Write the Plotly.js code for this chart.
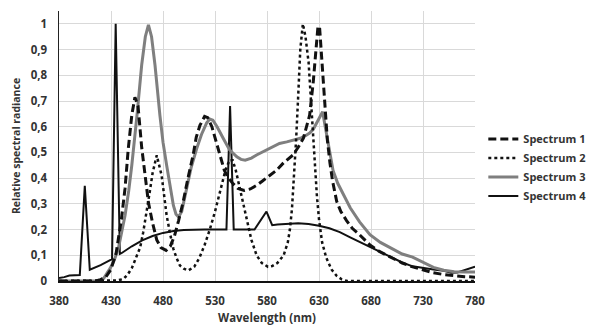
<!DOCTYPE html>
<html>
<head>
<meta charset="utf-8">
<script src="https://cdn.plot.ly/plotly-3.0.1.min.js"></script>
<style>html,body{margin:0;padding:0;background:#fff;}#chart{width:589px;height:330px;}</style>
</head>
<body>
<div id="chart"></div>
<script>
// ---- data ----
const seriesNames = ["Spectrum 1", "Spectrum 2", "Spectrum 3", "Spectrum 4"];

const s1Wavelength = [380,390,400,410,415,420,425,430,435,440,443.5,446.5,450,453,456,459.5,463,466,470,474,478,483,487,491,495,499.5,504,509,512,515.5,520,523,527,531,535,539,543,547,552,558,564,570,576,582,589,596,600,605,610,615,618,621,624.5,627,629,630.5,632,634,636,638,640.5,643,647,651,656.5,662,669,679,688,700,710,720,730,740,750,760,770,780];
const s1Radiance   = [0,0,0,0,0,0.005,0.015,0.045,0.11,0.24,0.36,0.51,0.645,0.715,0.68,0.52,0.4,0.305,0.225,0.16,0.13,0.119,0.135,0.175,0.235,0.31,0.4,0.49,0.56,0.605,0.64,0.635,0.6,0.54,0.48,0.43,0.4,0.38,0.36,0.352,0.358,0.372,0.39,0.41,0.43,0.46,0.475,0.49,0.52,0.555,0.6,0.645,0.775,0.9,0.99,0.99,0.9,0.76,0.64,0.55,0.46,0.39,0.31,0.27,0.235,0.205,0.18,0.14,0.115,0.09,0.07,0.055,0.042,0.032,0.025,0.02,0.017,0.015];

const s2Wavelength = [380,400,420,430,436,442,446,450,454,458,461,464,467,470,474,478.7,481,483.5,487,490,493,496.3,500,504.3,510,515,520,525,530,535,540,544,547,550,555,560,565,570,575,581,585,590,596,600,602,604,606,608,610,612,614.5,617,620,622,624,626,628,630,633,637,642,647,652,657,670,700,730,760,780];
const s2Radiance   = [0,0,0,0,0.002,0.008,0.025,0.05,0.09,0.13,0.19,0.26,0.34,0.42,0.489,0.41,0.34,0.255,0.18,0.125,0.09,0.06,0.048,0.041,0.055,0.09,0.14,0.2,0.27,0.35,0.43,0.47,0.47,0.43,0.34,0.24,0.16,0.1,0.07,0.055,0.058,0.07,0.1,0.15,0.2,0.28,0.4,0.55,0.72,0.9,1.0,0.95,0.85,0.72,0.58,0.45,0.33,0.24,0.15,0.09,0.045,0.02,0.006,0,0,0,0,0,0];

const s3Wavelength = [380,400,415,420,423,429,433,437,440,443.5,447,450,455,459.5,463,466,469,472.3,477,480,483.5,487,490,492.5,495,498,502.8,507,512.4,517,522,525,528,532,538,544,551,555,559,565,570,576,585,592,599,606,612,617,621,624.5,628,631,633.5,636,638.5,641,643.5,648,653,660,669,679,689,700,710,720,730,740,750,760,770,780];
const s3Radiance   = [0,0,0,0.004,0.01,0.048,0.08,0.125,0.18,0.255,0.35,0.45,0.645,0.84,0.95,0.996,0.95,0.84,0.645,0.54,0.45,0.36,0.294,0.26,0.249,0.27,0.36,0.44,0.515,0.57,0.615,0.63,0.625,0.6,0.554,0.51,0.483,0.473,0.47,0.478,0.49,0.502,0.52,0.535,0.541,0.548,0.555,0.565,0.575,0.59,0.615,0.64,0.658,0.6,0.545,0.48,0.43,0.38,0.34,0.285,0.23,0.18,0.15,0.125,0.105,0.093,0.072,0.053,0.042,0.036,0.035,0.035];

const s4Wavelength = [380,385,390,395,400,404.8,409.6,420,431,434.5,438.5,440,450,460,470,480,490,500,510,520,530,541,544.5,548,560,568,579.5,585,590,600,610,620,630,640,650,660,670,680,690,700,710,720,730,740,750,757,763,770,780];
const s4Radiance   = [0.012,0.015,0.021,0.022,0.023,0.37,0.044,0.062,0.085,1.0,0.105,0.108,0.135,0.158,0.175,0.187,0.194,0.198,0.2,0.2,0.2,0.2,0.68,0.2,0.2,0.2,0.27,0.217,0.22,0.223,0.225,0.222,0.215,0.205,0.19,0.17,0.15,0.13,0.11,0.09,0.072,0.057,0.05,0.045,0.04,0.032,0.033,0.042,0.056];

const xTickValues = [380,430,480,530,580,630,680,730,780];
const yTickValues = [0,0.1,0.2,0.3,0.4,0.5,0.6,0.7,0.8,0.9,1];

// ---- chart ----
const fontFamily = '"Open Sans", "DejaVu Sans", sans-serif';
const traces = [
  {x: s4Wavelength, y: s4Radiance, name: seriesNames[3], mode: 'lines', line: {color: '#111111', width: 2}, showlegend: false},
  {x: s3Wavelength, y: s3Radiance, name: seriesNames[2], mode: 'lines', line: {color: '#7f7f7f', width: 3}, showlegend: false},
  {x: s2Wavelength, y: s2Radiance, name: seriesNames[1], mode: 'lines', line: {color: '#111111', width: 2.5, dash: 'dot'}, showlegend: false},
  {x: s1Wavelength, y: s1Radiance, name: seriesNames[0], mode: 'lines', line: {color: '#111111', width: 3, dash: '8px,4px'}, showlegend: false}
];
// legend entries in original order
const legendTraces = [
  {x: [null], y: [null], name: seriesNames[0], mode: 'lines', line: {color: '#111111', width: 3, dash: '8px,4px'}},
  {x: [null], y: [null], name: seriesNames[1], mode: 'lines', line: {color: '#111111', width: 2.5, dash: 'dot'}},
  {x: [null], y: [null], name: seriesNames[2], mode: 'lines', line: {color: '#7f7f7f', width: 3}},
  {x: [null], y: [null], name: seriesNames[3], mode: 'lines', line: {color: '#111111', width: 2}}
];

const layout = {
  width: 589, height: 330,
  margin: {l: 59, r: 114, t: 11, b: 49, autoexpand: false},
  paper_bgcolor: '#ffffff', plot_bgcolor: '#ffffff',
  separators: ',.',
  font: {family: fontFamily, size: 11, color: '#333333', weight: 'bold'},
  showlegend: true,
  legend: {x: 1.02, xanchor: 'left', y: 0.42, yanchor: 'middle',
           font: {family: fontFamily, size: 11, color: '#333333', weight: 'bold'},
           bgcolor: 'rgba(0,0,0,0)', borderwidth: 0, tracegroupgap: 0, itemwidth: 30},
  xaxis: {
    range: [380, 780], tickvals: xTickValues, showgrid: true, gridcolor: '#d9d9d9', gridwidth: 1,
    zeroline: false, showline: true, linecolor: '#111111', linewidth: 2, ticks: '',
    ticklabelstandoff: 8,
    tickfont: {family: fontFamily, size: 11.5, color: '#333333', weight: 'bold'},
    title: {text: 'Wavelength (nm)', standoff: 7, font: {family: fontFamily, size: 11.5, color: '#333333', weight: 'bold'}}
  },
  yaxis: {
    range: [0, 1.05], tickvals: yTickValues, showgrid: true, gridcolor: '#d9d9d9', gridwidth: 1,
    zeroline: false, showline: true, linecolor: '#222222', linewidth: 1.5, ticks: '',
    ticklabelstandoff: 8,
    tickfont: {family: fontFamily, size: 11.5, color: '#333333', weight: 'bold'},
    title: {text: 'Relative spectral radiance', standoff: 8, font: {family: fontFamily, size: 10.5, color: '#333333', weight: 'bold'}}
  }
};

Plotly.newPlot('chart', traces.concat(legendTraces), layout, {staticPlot: true, displayModeBar: false});
</script>
</body>
</html>
